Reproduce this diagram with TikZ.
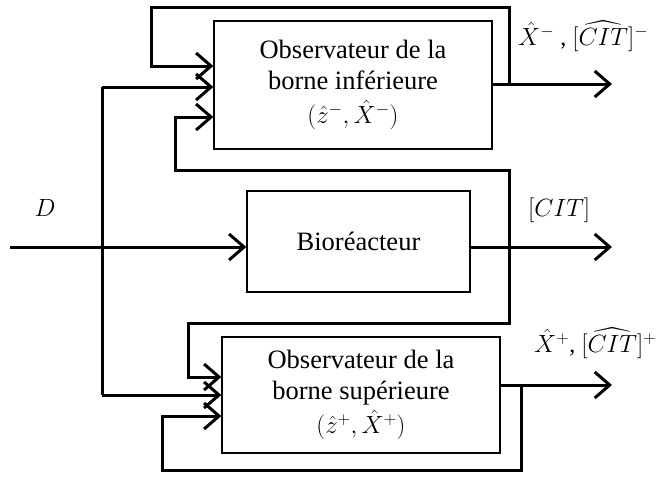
\documentclass[tikz,border=0pt]{standalone}
\usepackage{fontspec}
\setmainfont{Liberation Serif}
\usepackage{amsmath}
\usetikzlibrary{arrows.meta,positioning}

\begin{document}
\begin{tikzpicture}[x=1pt, y=-1pt, every node/.style={font=\fontsize{26.5}{31}\selectfont}]

    % Styles
    \tikzset{
        blockbox/.style={draw=black, line width=1.3pt, inner sep=0pt, align=center},
        flow/.style={line width=3pt, -{Straight Barb[length=15pt, width=26pt, line width=3pt]}},
        wire/.style={line width=3pt},
        siglabel/.style={font=\fontsize{24}{28}\selectfont, inner sep=0pt}
    }

    \useasboundingbox (0,0) rectangle (669,477);

    % Blocks
    \node[blockbox, minimum width=278pt, minimum height=128pt] (topobs) at (353,85)
        {Observateur de la\\borne inférieure\\[3pt]$(\hat{z}^{-},\hat{X}^{-})$};
    \node[blockbox, minimum width=223pt, minimum height=101pt] (bio) at (358.5,241.5)
        {Bioréacteur};
    \node[blockbox, minimum width=278pt, minimum height=116pt] (botobs) at (361,395)
        {Observateur de la\\borne supérieure\\[3pt]$(\hat{z}^{+},\hat{X}^{+})$};

    % Junction points
    \coordinate (din) at (10,247);
    \coordinate (dsplit) at (102,247);
    \coordinate (dup) at (102,87);
    \coordinate (ddown) at (102,395);
    \coordinate (topout) at (509,84);
    \coordinate (bioout) at (509,247);
    \coordinate (botout) at (521,385);
    \coordinate (topend) at (612,84);
    \coordinate (bioend) at (612,247);
    \coordinate (botend) at (612,385);

    % Labels
    \node[siglabel] (dlab) at (45,208) {$D$};
    \node[siglabel, anchor=west] (toplab) at (518,36) {$\hat{X}^{-}$ , $[\widehat{CIT}]^{-}$};
    \node[siglabel, anchor=west] (biolab) at (528,210) {$[CIT]$};
    \node[siglabel, anchor=west] (botlab) at (534,343) {$\hat{X}^{+}$, $[\widehat{CIT}]^{+}$};

    % Input D
    \draw[flow] (din) -- (din -| bio.west);
    \draw[wire] (dup) -- (ddown);
    \draw[flow] (dup) -- (dup -| topobs.west);
    \draw[flow] (ddown) -- (ddown -| botobs.west);

    % Outputs
    \draw[flow] (topout -| topobs.east) -- (topend);
    \draw[flow] (bioout -| bio.east) -- (bioend);
    \draw[flow] (botout -| botobs.east) -- (botend);

    % Feedback of the lower observer
    \draw[flow] (topout) -- (509,7) -- (151,7) -- (151,66) -- (topobs.west |- 0,66);

    % Measured [CIT] towards both observers
    \draw[flow] (bioout) -- (509,170) -- (175,170) -- (175,117) -- (topobs.west |- 0,117);
    \draw[flow] (bioout) -- (509,323) -- (188,323) -- (188,377) -- (botobs.west |- 0,377);

    % Feedback of the upper observer
    \draw[flow] (botout) -- (521,470) -- (162,470) -- (162,416) -- (botobs.west |- 0,416);

\end{tikzpicture}
\end{document}
